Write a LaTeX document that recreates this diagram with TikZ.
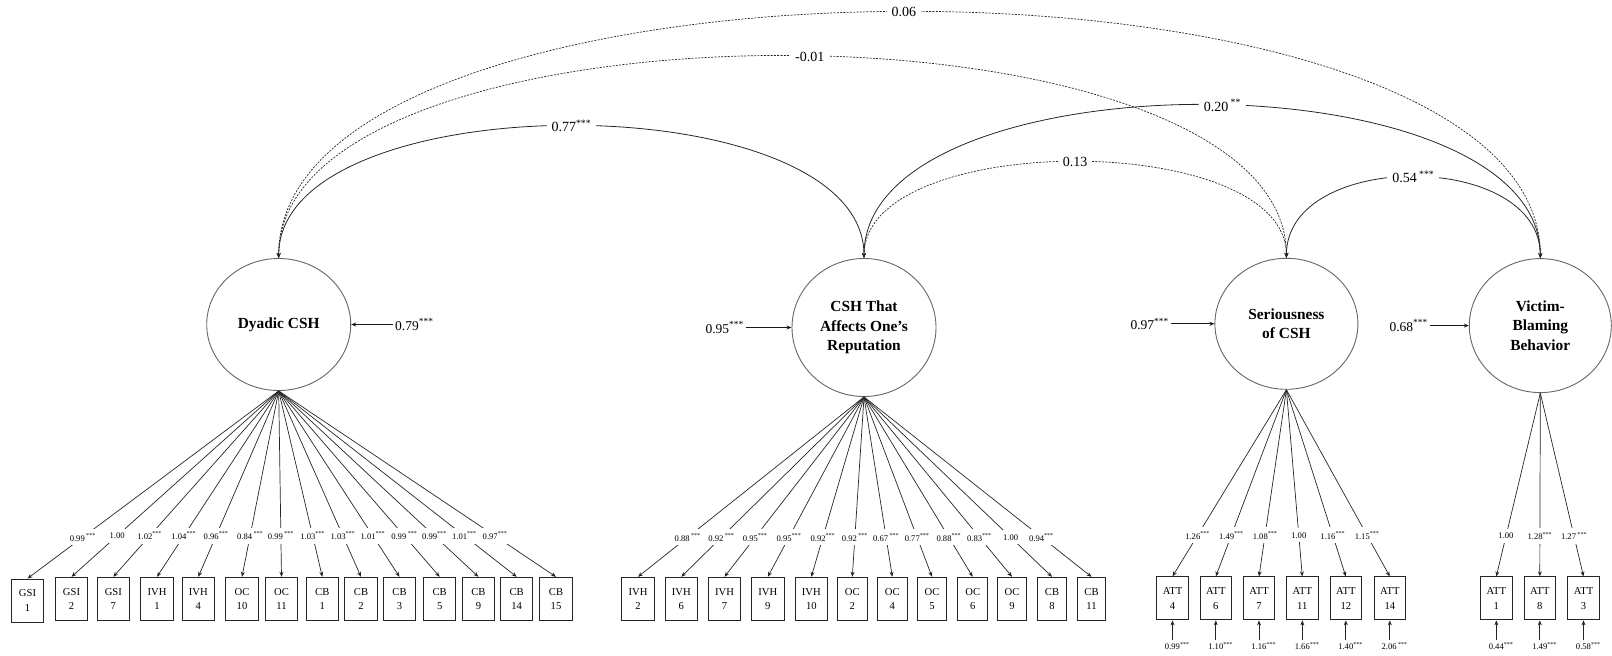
\documentclass[tikz,border=0pt]{standalone}
\usepackage{fontspec}
\setmainfont{Liberation Serif}
\usetikzlibrary{shapes.geometric,arrows.meta}
\newcommand{\mysig}[1]{\textsuperscript{#1}}
\begin{document}
\begin{tikzpicture}[x=1pt,y=1pt,
  lat/.style={ellipse,draw=black!60,line width=0.9pt,inner sep=0pt,align=center,
    font=\fontsize{15.4}{19.6}\selectfont\bfseries},
  ind/.style={rectangle,draw=black!85,line width=1pt,minimum height=43pt,inner sep=0pt,
    align=center,font=\fontsize{10.6}{14.3}\selectfont},
  tip/.tip={Stealth[length=5pt,width=4pt]},
  load/.style={-tip,line width=0.7pt,draw=black!85},
  llab/.style={fill=white,inner xsep=1pt,inner ysep=4pt,font=\fontsize{8.6}{10}\selectfont,pos=0.78},
  cov/.style={tip-tip,line width=0.8pt,draw=black!85},
  dcov/.style={cov,dash pattern=on 2pt off 1.3pt,line width=0.7pt},
  clab/.style={fill=white,inner xsep=5pt,inner ysep=3pt,font=\fontsize{14}{16}\selectfont},
  res/.style={font=\fontsize{13.5}{16}\selectfont,inner sep=2pt},
  resarr/.style={-tip,line width=0.8pt,draw=black!90},
  err/.style={font=\fontsize{8.6}{10}\selectfont,inner sep=1.5pt},
]
\useasboundingbox (0,0) rectangle (1612,-656);

% latent variables
\node[lat,minimum width=144pt,minimum height=132pt] (dy) at (278.7,-324.5) {Dyadic CSH};
\node[lat,minimum width=144pt,minimum height=138pt] (csh) at (864,-327.5) {CSH That\\Affects One’s\\Reputation};
\node[lat,minimum width=143pt,minimum height=131pt] (ser) at (1286.4,-323.8) {Seriousness\\of CSH};
\node[lat,minimum width=142pt,minimum height=134pt] (vic) at (1540.3,-325.6) {Victim-\\Blaming\\Behavior};

% indicators: Dyadic CSH
\foreach \n/\x/\t in {a2/71.5/{GSI\\2},a3/113.3/{GSI\\7},a4/157/{IVH\\1},a5/198.3/{IVH\\4},
  a6/242/{OC\\10},a7/281.5/{OC\\11},a8/322.3/{CB\\1},a9/361/{CB\\2},a10/399.5/{CB\\3},
  a11/439.7/{CB\\5},a12/478.4/{CB\\9},a13/516.7/{CB\\14},a14/556/{CB\\15}}
  \node[ind,minimum width=32.5pt] (\n) at (\x,-598.8) {\t};
\node[ind,minimum width=32.5pt] (a1) at (27.5,-600.5) {GSI\\1};

% indicators: CSH that affects one's reputation
\foreach \n/\x/\t in {b1/638/{IVH\\2},b2/681.3/{IVH\\6},b3/724.5/{IVH\\7},b4/767.8/{IVH\\9},b5/811.3/{IVH\\10}}
  \node[ind,minimum width=32.6pt] (\n) at (\x,-598.8) {\t};
\foreach \n/\x/\t in {b6/852.3/{OC\\2},b7/892.3/{OC\\4},b8/932/{OC\\5},b9/972.7/{OC\\6},b10/1012/{OC\\9}}
  \node[ind,minimum width=29.5pt] (\n) at (\x,-598.8) {\t};
\foreach \n/\x/\t in {b11/1052/{CB\\8},b12/1091.5/{CB\\11}}
  \node[ind,minimum width=28.5pt] (\n) at (\x,-598.8) {\t};

% indicators: seriousness, victim blaming
\foreach \n/\x/\t in {c1/1172.5/{ATT\\4},c2/1215.8/{ATT\\6},c3/1259/{ATT\\7},c4/1302.3/{ATT\\11},
  c5/1345.8/{ATT\\12},c6/1389.8/{ATT\\14},d1/1496.3/{ATT\\1},d2/1539.8/{ATT\\8},d3/1583.5/{ATT\\3}}
  \node[ind,minimum width=31.5pt] (\n) at (\x,-598.4) {\t};

% loadings
\foreach \n/\l in {a1/{0.99\,\mysig{***}},a2/{1.00},a3/{1.02\mysig{***}},a4/{1.04\mysig{***}},
  a5/{0.96\mysig{***}},a6/{0.84\,\mysig{***}},a7/{0.99\,\mysig{***}},a8/{1.03\mysig{***}},
  a9/{1.03\mysig{***}},a10/{1.01\mysig{***}},a11/{0.99\,\mysig{***}},a12/{0.99\mysig{***}},
  a13/{1.01\mysig{***}},a14/{0.97\mysig{***}}}
  \draw[load] (dy.south) -- node[llab] {\l} (\n.north);
\foreach \n/\l in {b1/{0.88\,\mysig{***}},b2/{0.92\,\mysig{***}},b3/{0.95\mysig{***}},b4/{0.95\mysig{***}},
  b5/{0.92\mysig{***}},b6/{0.92\,\mysig{***}},b7/{0.67\,\mysig{***}},b8/{0.77\mysig{***}},
  b9/{0.88\mysig{***}},b10/{0.83\mysig{***}},b11/{1.00},b12/{0.94\mysig{***}}}
  \draw[load] (csh.south) -- node[llab] {\l} (\n.north);
\foreach \n/\l in {c1/{1.26\mysig{***}},c2/{1.49\mysig{***}},c3/{1.08\mysig{***}},c4/{1.00},
  c5/{1.16\mysig{***}},c6/{1.15\mysig{***}}}
  \draw[load] (ser.south) -- node[llab] {\l} (\n.north);
\foreach \n/\l in {d1/{1.00},d2/{1.28\mysig{***}},d3/{1.27\,\mysig{***}}}
  \draw[load] (vic.south) -- node[llab] {\l} (\n.north);

% error variances
\foreach \n/\l in {c1/{0.99},c2/{1.10},c3/{1.16},c4/{1.66},c5/{1.40},c6/{2.06\,},d1/{0.44},d2/{1.49},d3/{0.58}}{
  \node[err] (e\n) at (\n.south |- 0,-646) {\l\rlap{\mysig{***}}};
  \draw[load] (e\n) -- (\n);
}

% residual variances
\node[res,anchor=west] (r1) at (393,-324.5) {0.79\mysig{***}};
\draw[resarr] (r1.west) -- (dy.east);
\node[res,anchor=east] (r2) at (746,-327.5) {0.95\mysig{***}};
\draw[resarr] (r2.east) -- (csh.west);
\node[res,anchor=east] (r3) at (1171,-323.8) {0.97\mysig{***}};
\draw[resarr] (r3.east) -- (ser.west);
\node[res,anchor=east] (r4) at (1430,-325.6) {0.68\mysig{***}};
\draw[resarr] (r4.east) -- (vic.west);

% covariances
\draw[dcov] (dy.north) .. controls +(0,328) and +(0,328) .. node[clab,pos=0.497] {0.06} (vic.north);
\draw[dcov] (dy.north) .. controls +(0,269) and +(0,269) .. node[clab,pos=0.518] {-0.01} (ser.north);
\draw[cov] (dy.north) .. controls +(0,176) and +(0,176) .. node[clab,pos=0.5] {0.77\mysig{***}} (csh.north);
\draw[cov] (csh.north) .. controls +(0,204) and +(0,204) .. node[clab,pos=0.52] {0.20\,\mysig{**}} (vic.north);
\draw[dcov] (csh.north) .. controls +(0,128) and +(0,128) .. node[clab,pos=0.5] {0.13} (ser.north);
\draw[cov] (ser.north) .. controls +(0,108) and +(0,108) .. node[clab,pos=0.5] {0.54\,\mysig{***}} (vic.north);
\end{tikzpicture}
\end{document}
